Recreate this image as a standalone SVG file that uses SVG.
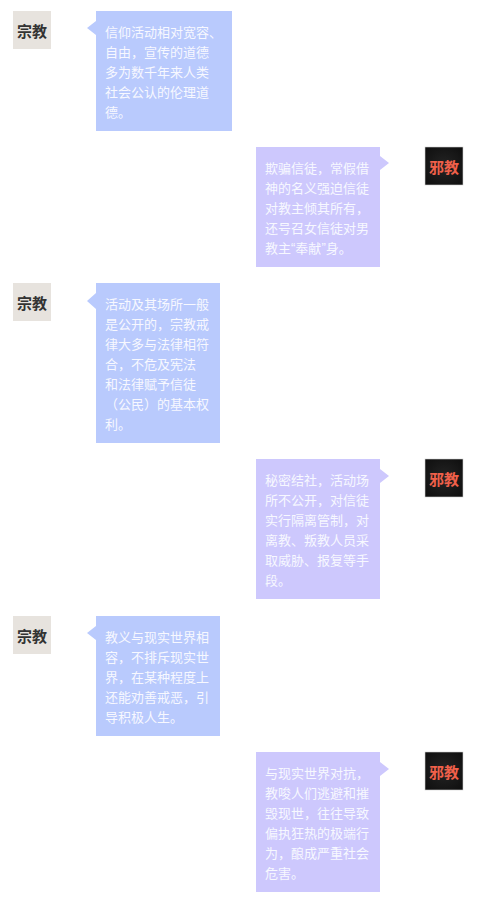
<svg xmlns="http://www.w3.org/2000/svg" width="478" height="917" viewBox="0 0 478 917">
<defs>
<radialGradient id="dark" cx="50%" cy="50%" r="70%">
<stop offset="0" stop-color="#242424"/>
<stop offset="1" stop-color="#0e0e0e"/>
</radialGradient>
</defs>
<style>
.bl{fill:#b9cafd}
.bp{fill:#cdc8fd}
.t{font-family:"Noto Sans CJK SC","Noto Sans",sans-serif;font-size:13px;fill:#f7f8ff;dominant-baseline:central}
.q{font-family:"Liberation Sans",sans-serif}
.zj{fill:#e7e3de}
.xj{fill:url(#dark);stroke:#cfcfcf;stroke-width:0.6}
.bz{font-family:"Noto Sans CJK SC","Noto Sans",sans-serif;font-size:15px;font-weight:bold;text-anchor:middle;dominant-baseline:central}
.bz1{fill:#333}
.bz2{fill:#f0604a}
</style>
<rect width="478" height="917" fill="#fff"/>
<g id="connectors"></g>

<g id="badge1"><rect class="zj" x="13" y="11" width="38" height="38"/><text class="bz bz1" x="32" y="30">宗教</text></g>
<g id="bubble1"><rect class="bl" x="96" y="11" width="136" height="120"/><polygon class="bl" points="96,21 87,28 96,35"/>
<text class="t" x="105"><tspan x="105" y="31">信仰活动相对宽容、</tspan><tspan x="105" y="51">自由，宣传的道德</tspan><tspan x="105" y="71">多为数千年来人类</tspan><tspan x="105" y="91">社会公认的伦理道</tspan><tspan x="105" y="111">德。</tspan></text></g>

<g id="bubble2"><rect class="bp" x="256" y="147" width="124" height="120"/><polygon class="bp" points="380,156 389,163 380,170"/>
<text class="t"><tspan x="265" y="167">欺骗信徒，常假借</tspan><tspan x="265" y="187">神的名义强迫信徒</tspan><tspan x="265" y="207">对教主倾其所有，</tspan><tspan x="265" y="227">还号召女信徒对男</tspan><tspan x="265" y="247">教主<tspan class="q">“</tspan>奉献<tspan class="q">”</tspan>身。</tspan></text></g>
<g id="badge2"><rect class="xj" x="425" y="147" width="38" height="38"/><text class="bz bz2" x="444" y="166">邪教</text></g>

<g id="badge3"><rect class="zj" x="13" y="283" width="38" height="38"/><text class="bz bz1" x="32" y="302">宗教</text></g>
<g id="bubble3"><rect class="bl" x="96" y="283" width="124" height="160"/><polygon class="bl" points="96,293 87,301 96,309"/>
<text class="t"><tspan x="105" y="303">活动及其场所一般</tspan><tspan x="105" y="323">是公开的，宗教戒</tspan><tspan x="105" y="343">律大多与法律相符</tspan><tspan x="105" y="363">合，不危及宪法</tspan><tspan x="105" y="383">和法律赋予信徒</tspan><tspan x="105" y="403">（公民）的基本权</tspan><tspan x="105" y="423">利。</tspan></text></g>

<g id="bubble4"><rect class="bp" x="256" y="459" width="124" height="140"/><polygon class="bp" points="380,469 389,476 380,483"/>
<text class="t"><tspan x="265" y="479">秘密结社，活动场</tspan><tspan x="265" y="499">所不公开，对信徒</tspan><tspan x="265" y="519">实行隔离管制，对</tspan><tspan x="265" y="539">离教、叛教人员采</tspan><tspan x="265" y="559">取威胁、报复等手</tspan><tspan x="265" y="579">段。</tspan></text></g>
<g id="badge4"><rect class="xj" x="425" y="459" width="38" height="38"/><text class="bz bz2" x="444" y="478">邪教</text></g>

<g id="badge5"><rect class="zj" x="13" y="616" width="38" height="38"/><text class="bz bz1" x="32" y="635">宗教</text></g>
<g id="bubble5"><rect class="bl" x="96" y="616" width="124" height="120"/><polygon class="bl" points="96,626 87,633 96,640"/>
<text class="t"><tspan x="105" y="636">教义与现实世界相</tspan><tspan x="105" y="656">容，不排斥现实世</tspan><tspan x="105" y="676">界，在某种程度上</tspan><tspan x="105" y="696">还能劝善戒恶，引</tspan><tspan x="105" y="716">导积极人生。</tspan></text></g>

<g id="bubble6"><rect class="bp" x="256" y="752" width="124" height="140"/><polygon class="bp" points="380,762 389,769 380,776"/>
<text class="t"><tspan x="265" y="772">与现实世界对抗，</tspan><tspan x="265" y="792">教唆人们逃避和摧</tspan><tspan x="265" y="812">毁现世，往往导致</tspan><tspan x="265" y="832">偏执狂热的极端行</tspan><tspan x="265" y="852">为，酿成严重社会</tspan><tspan x="265" y="872">危害。</tspan></text></g>
<g id="badge6"><rect class="xj" x="425" y="752" width="38" height="38"/><text class="bz bz2" x="444" y="771">邪教</text></g>
</svg>
